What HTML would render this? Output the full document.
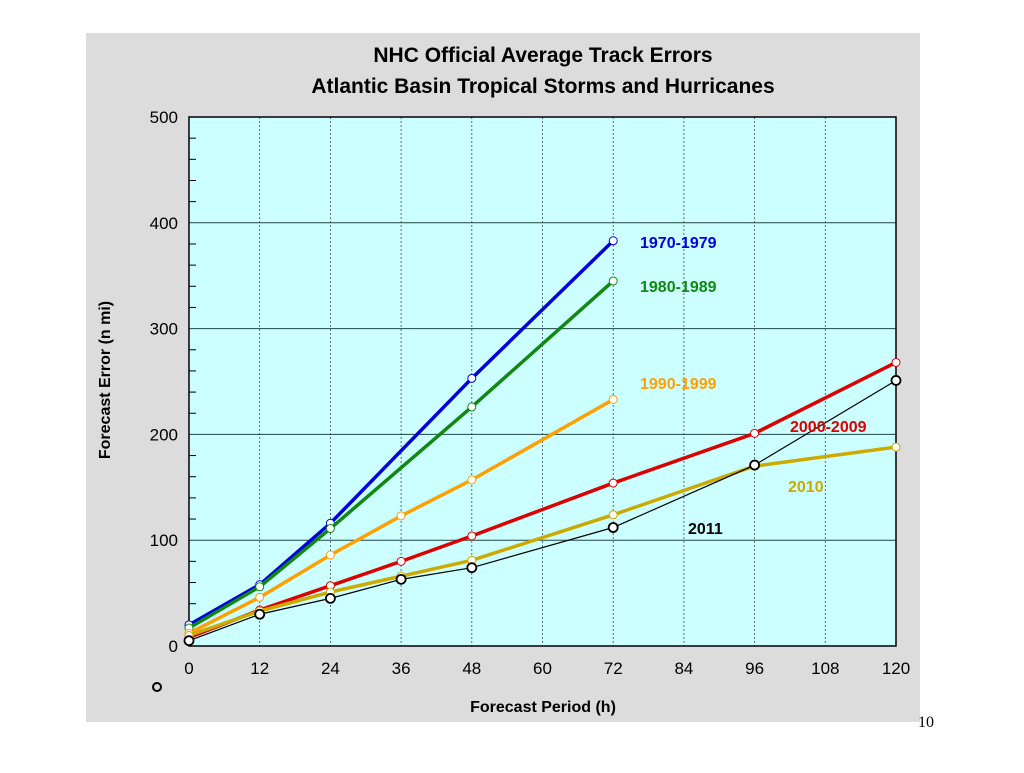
<!DOCTYPE html>
<html><head><meta charset="utf-8"><style>
body{margin:0;width:1024px;height:768px;background:#fff;overflow:hidden;font-family:"Liberation Sans",sans-serif}
</style></head><body>
<svg width="1024" height="768" xmlns="http://www.w3.org/2000/svg" font-family="Liberation Sans, sans-serif">
<rect x="86" y="33" width="834" height="689" fill="#dcdcdc"/>
<rect x="189" y="117" width="707" height="529" fill="#ccffff"/>
<text x="543" y="62" text-anchor="middle" font-size="21" font-weight="bold">NHC Official Average Track Errors</text>
<text x="543" y="93" text-anchor="middle" font-size="21" font-weight="bold">Atlantic Basin Tropical Storms and Hurricanes</text>
<g id="grid"></g><g id="axes"></g><g id="series"></g><g id="labels"></g>
<text x="543" y="712" text-anchor="middle" font-size="16" font-weight="bold">Forecast Period (h)</text>
<text transform="translate(110,380) rotate(-90)" text-anchor="middle" font-size="16" font-weight="bold">Forecast Error (n mi)</text>
<circle cx="157" cy="687" r="4" fill="none" stroke="#000" stroke-width="2"/>
<text x="918" y="727" font-family="Liberation Serif, serif" font-size="16">10</text>
</svg>
<script>
const xTicks=[0,12,24,36,48,60,72,84,96,108,120];
const yTicks=[0,100,200,300,400,500];
const seriesNames=["1970-1979","1980-1989","1990-1999","2000-2009","2010","2011"];
const s1970x=[0,12,24,48,72]; const s1970y=[20,58,116,253,383];
const s1980x=[0,12,24,48,72]; const s1980y=[17,56,111,226,345];
const s1990x=[0,12,24,36,48,72]; const s1990y=[12,46,86,123,157,233];
const s2000x=[0,12,24,36,48,72,96,120]; const s2000y=[8,34,57,80,104,154,201,268];
const s2010x=[0,12,24,36,48,72,96,120]; const s2010y=[10,33,51,66,81,124,170,188];
const s2011x=[0,12,24,36,48,72,96,120]; const s2011y=[5,30,45,63,74,112,171,251];
const X=v=>189+v*707/120, Y=v=>646-v*529/500;
const NS="http://www.w3.org/2000/svg";
function mk(t,a,p){const e=document.createElementNS(NS,t);for(const k in a)e.setAttribute(k,a[k]);document.getElementById(p).appendChild(e);return e;}
xTicks.forEach(t=>{
 if(t>0&&t<120){const l=mk('line',{x1:X(t),x2:X(t),y1:117,y2:646,stroke:'#446',"stroke-width":0.8,"stroke-dasharray":'2,2'},'grid');
 
 }
 const tx=mk('text',{x:X(t),y:674,"text-anchor":'middle',"font-size":17},'axes');tx.textContent=t;
 
 
});
yTicks.forEach(t=>{
 if(t>0&&t<500){const l=mk('line',{x1:189,x2:896,y1:Y(t),y2:Y(t),stroke:'#244',"stroke-width":1},'grid');
 
 }
 const tx=mk('text',{x:178,y:Y(t)+6,"text-anchor":'end',"font-size":17},'axes');tx.textContent=t;
 
 
});
for(let v=20;v<500;v+=20){if(v%100){const m=mk('line',{x1:189,x2:196,y1:Y(v),y2:Y(v),stroke:'#000'},'axes');}}
const b=mk('rect',{x:189,y:117,width:707,height:529,fill:'none',stroke:'#000',"stroke-width":1.5},'axes');


const xs=[s1970x,s1980x,s1990x,s2000x,s2010x,s2011x];
const ys=[s1970y,s1980y,s1990y,s2000y,s2010y,s2011y];
const cols=['#0000dd','#118811','#ffa000','#dd0000','#ccaa00','#000000'];
const widths=[3.5,3.5,3.5,3.5,3.5,1.2];
const lab=[[640,248],[640,292],[640,389],[790,432],[788,492],[688,534]];
seriesNames.forEach((n,i)=>{
 const pts=xs[i].map((x,j)=>X(x)+','+Y(ys[i][j])).join(' ');
 const pl=mk('polyline',{points:pts,fill:'none',stroke:cols[i],"stroke-width":widths[i]},'series');
 
 
 xs[i].forEach((x,j)=>{const c=mk('circle',{cx:X(x),cy:Y(ys[i][j]),r:i==5?4.5:4,fill:'#fff',stroke:cols[i],"stroke-width":i==5?1.8:1},'series');
 
 });
 const t=mk('text',{x:lab[i][0],y:lab[i][1],"font-size":16,"font-weight":'bold',fill:cols[i]},'labels');t.textContent=n;
 
 
});
</script>
</body></html>
